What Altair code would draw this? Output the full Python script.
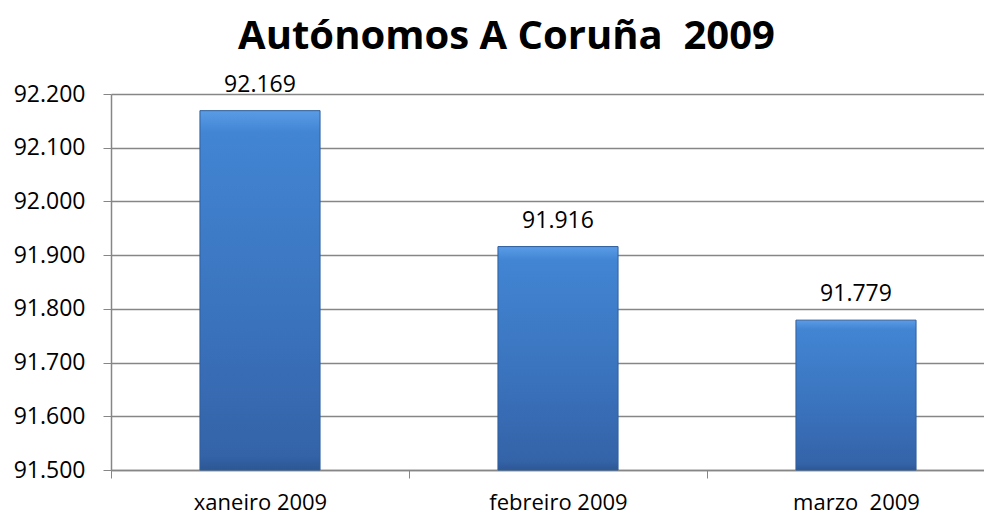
import altair as alt
import pandas as pd

categories = ["xaneiro 2009", "febreiro 2009", "marzo\u00a0 2009"]
values = [92169, 91916, 91779]
y_ticks = [91500, 91600, 91700, 91800, 91900, 92000, 92100, 92200]
title_text = "Autónomos A Coruña\u00a0 2009"

df = pd.DataFrame({"mes": categories, "valor": values})

FONT = "Open Sans"
x_scale = alt.Scale(range=[0, 894], paddingInner=0, paddingOuter=0)

x_enc = alt.X(
    "mes:N",
    sort=categories,
    title=None,
    scale=x_scale,
    axis=alt.Axis(
        labelAngle=0,
        labelFont=FONT,
        labelFontSize=22,
        labelColor="#000000",
        labelPadding=14,
        tickSize=8,
        tickColor="#868686",
        domainColor="#868686",
        domainWidth=1.5,
        tickBand="extent",
        grid=False,
    ),
)

y_scale = alt.Scale(domain=[91500, 92200], zero=False, nice=False)

bars = (
    alt.Chart(df)
    .mark_bar(
        width=alt.RelativeBandSize(0.403),
        color=alt.Gradient(
            gradient="linear",
            x1=0, y1=0, x2=0, y2=1,
            stops=[
                alt.GradientStop(color="#5a9ce6", offset=0),
                alt.GradientStop(color="#4285d3", offset=0.06),
                alt.GradientStop(color="#3a72bc", offset=0.6),
                alt.GradientStop(color="#3463a8", offset=0.96),
                alt.GradientStop(color="#2d5794", offset=1),
            ],
        ),
        stroke="#2f5f9e",
        strokeWidth=1,
    )
    .encode(
        x=x_enc,
        y=alt.Y(
            "valor:Q",
            scale=y_scale,
            title=None,
            axis=alt.Axis(
                values=y_ticks,
                labelExpr="replace(format(datum.value, ',.0f'), ',', '.')",
                labelFont=FONT,
                labelFontSize=23,
                labelColor="#000000",
                labelPadding=18,
                tickSize=8,
                tickColor="#868686",
                domainColor="#868686",
                domainWidth=1.5,
                gridColor="#868686",
                gridWidth=1.5,
            ),
        ),
        y2=alt.datum(91500),
    )
)

labels = (
    alt.Chart(df)
    .transform_calculate(txt="replace(format(datum.valor, ',.0f'), ',', '.')")
    .mark_text(font=FONT, fontSize=23, color="#000000", baseline="bottom", dy=-14)
    .encode(
        x=alt.X("mes:N", sort=categories, scale=x_scale),
        y=alt.Y("valor:Q", scale=y_scale),
        text="txt:N",
    )
)

chart = (
    alt.layer(bars, labels)
    .properties(
        width=873,
        height=376,
        autosize=alt.AutoSizeParams(type="none"),
        padding={"left": 103, "top": 86, "right": 0, "bottom": 46},
        title=alt.TitleParams(
            text=title_text,
            font=FONT,
            fontSize=40,
            fontWeight="bold",
            color="#000000",
            anchor="middle",
            dx=-41,
            offset=17,
        ),
    )
    .configure_view(stroke=None)
)

chart.save("out.html", embed_options={"renderer": "svg", "actions": False})
